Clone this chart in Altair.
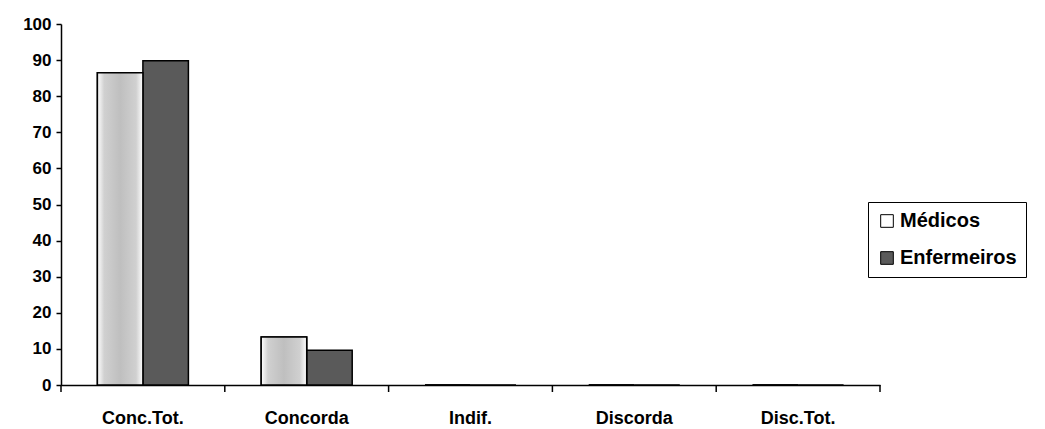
import altair as alt
import pandas as pd

categories = ["Conc.Tot.", "Concorda", "Indif.", "Discorda", "Disc.Tot."]
series = ["Médicos", "Enfermeiros"]
medicos = [86.5, 13.3, 0, 0, 0]
enfermeiros = [89.8, 9.6, 0, 0, 0]
y_ticks = [0, 10, 20, 30, 40, 50, 60, 70, 80, 90, 100]

rows = []
for c, m, e in zip(categories, medicos, enfermeiros):
    rows.append({"cat": c, "serie": "Médicos", "valor": m})
    rows.append({"cat": c, "serie": "Enfermeiros", "valor": e})
df = pd.DataFrame(rows)
cat_df = pd.DataFrame({"cat": categories})

W, H = 819, 361
FONT = "Liberation Sans"

xscale = alt.Scale(domain=categories, paddingInner=0, paddingOuter=0)
yscale = alt.Scale(domain=[0, 100], nice=False)
xoff = alt.XOffset("serie:N", sort=series,
                   scale=alt.Scale(domain=series, paddingOuter=0.8, paddingInner=0))

xaxis = alt.Axis(title=None, ticks=False, labelAngle=0, labelFontSize=18,
                 labelFontWeight="bold", labelFont=FONT, labelColor="black",
                 labelPadding=24, domainColor="black", domainWidth=1.5,
                 labelOverlap=False)
yaxis = alt.Axis(title=None, values=y_ticks, grid=False, tickSize=5,
                 tickColor="black", tickWidth=1.5, domainColor="black",
                 domainWidth=1.5, labelFontSize=17, labelFontWeight="bold",
                 labelFont=FONT, labelColor="black", labelPadding=5,
                 labelOverlap=False)

bars = alt.Chart(df).mark_bar(stroke="black", strokeWidth=1.5).encode(
    x=alt.X("cat:N", sort=categories, scale=xscale, axis=xaxis),
    xOffset=xoff,
    y=alt.Y("valor:Q", scale=yscale, axis=yaxis),
    color=alt.Color("serie:N", sort=series,
                    scale=alt.Scale(domain=series, range=["white", "#5a5a5a"]),
                    legend=alt.Legend(title=None, orient="none", legendX=807, legendY=178,
                                      strokeColor="black", padding=9, fillColor="white",
                                      symbolType="square", symbolSize=160,
                                      symbolStrokeColor="black", symbolStrokeWidth=1,
                                      labelFontSize=20, labelFontWeight="bold",
                                      labelFont=FONT, labelColor="black",
                                      rowPadding=17, labelOffset=3)),
)

grad = alt.Gradient(
    gradient="linear", x1=0, y1=0, x2=1, y2=0,
    stops=[
        alt.GradientStop(color="#ffffff", offset=0),
        alt.GradientStop(color="#d0d0d0", offset=0.15),
        alt.GradientStop(color="#bfbfbf", offset=0.5),
        alt.GradientStop(color="#d0d0d0", offset=0.85),
        alt.GradientStop(color="#ffffff", offset=1),
    ],
)

med_overlay = alt.Chart(df).transform_filter(
    alt.datum.serie == "Médicos"
).mark_bar(fill=grad, stroke="black", strokeWidth=1.5).encode(
    x=alt.X("cat:N", sort=categories, scale=xscale, axis=xaxis),
    xOffset=xoff,
    y=alt.Y("valor:Q", scale=yscale, axis=yaxis),
)

ticks = alt.Chart(cat_df).mark_rule(color="black", strokeWidth=1.5).encode(
    x=alt.X("cat:N", sort=categories, scale=xscale, bandPosition=0, axis=xaxis),
    y=alt.value(H),
    y2=alt.value(H + 7),
)
end_tick = alt.Chart(cat_df.head(1)).mark_rule(color="black", strokeWidth=1.5).encode(
    x=alt.value(W),
    y=alt.value(H),
    y2=alt.value(H + 7),
)

chart = alt.layer(bars, med_overlay, ticks, end_tick).properties(
    width=W, height=H,
    autosize=alt.AutoSizeParams(type="none"),
    padding={"left": 61, "top": 24, "right": 165, "bottom": 44},
    background="white",
).configure_view(stroke=None)

chart.save("out.html", embed_options={"renderer": "svg", "actions": False})
